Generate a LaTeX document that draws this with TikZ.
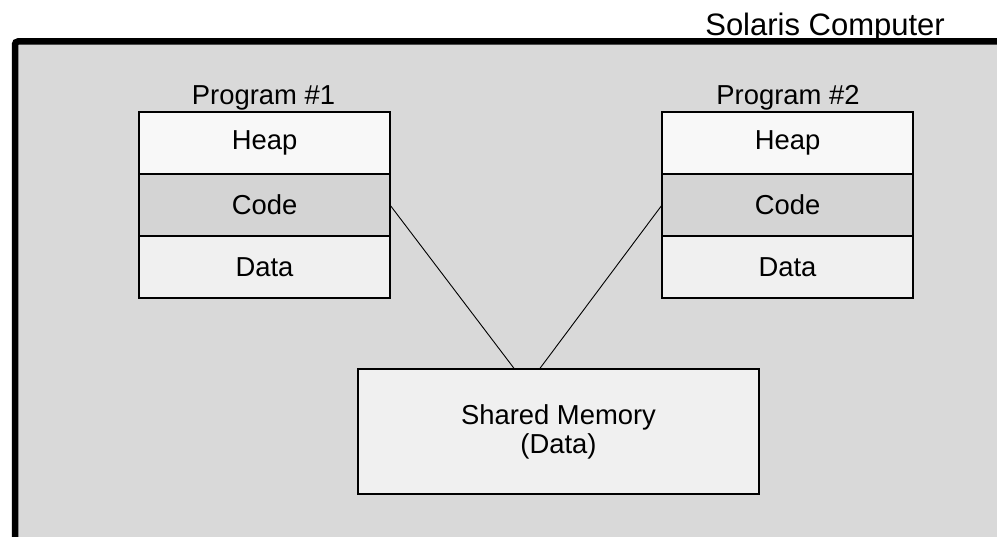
\documentclass[tikz,border=0pt]{standalone}
\usepackage{fontspec}
\setmainfont{Liberation Sans}
\begin{document}
\begin{tikzpicture}[x=1pt,y=-1pt,
  lbl/.style={font=\fontsize{27.4}{31}\selectfont, inner sep=0pt},
  seg/.style={draw=black, line width=2pt, minimum width=251pt, minimum height=62pt, inner sep=0pt, outer sep=0pt, font=\fontsize{27.4}{31}\selectfont},
  conn/.style={draw=black, line width=0.9pt}]
\useasboundingbox (0,0) rectangle (997,537);
% frame
\fill[fill={rgb,255:red,217;green,217;blue,217}] (15,41.5) rectangle (1000,540);
\draw[line width=6.5pt, rounded corners=3pt] (15,545) -- (15,41.5) -- (1005,41.5);
\node[inner sep=0pt, font=\fontsize{31}{35}\selectfont, anchor=base east] (title) at (945,35.5) {Solaris Computer};
% Program 1
\node[seg, fill={rgb,255:red,248;green,248;blue,248}] (h1) at (264.5,143) {Heap};
\node[seg, fill={rgb,255:red,212;green,212;blue,212}] (c1) at (264.5,205) {Code};
\node[seg, fill={rgb,255:red,240;green,240;blue,240}] (d1) at (264.5,267) {Data};
\node[lbl, anchor=base] (p1) at (263.5,105) {Program \#1};
% Program 2
\node[seg, fill={rgb,255:red,248;green,248;blue,248}] (h2) at (787.5,143) {Heap};
\node[seg, fill={rgb,255:red,212;green,212;blue,212}] (c2) at (787.5,205) {Code};
\node[seg, fill={rgb,255:red,240;green,240;blue,240}] (d2) at (787.5,267) {Data};
\node[lbl, anchor=base] (p2) at (788,105) {Program \#2};
% shared memory
\node[draw=black, line width=2pt, fill={rgb,255:red,240;green,240;blue,240}, minimum width=401pt, minimum height=125pt, inner sep=0pt, outer sep=0pt, align=center, font=\fontsize{27.4}{29}\selectfont] (sm) at (558.5,431.5) {Shared Memory\\(Data)};
\coordinate (s1) at ([xshift=-44pt]sm.north);
\coordinate (s2) at ([xshift=-19pt]sm.north);
\draw[conn] (c1.east) -- (s1);
\draw[conn] (c2.west) -- (s2);
\end{tikzpicture}
\end{document}
